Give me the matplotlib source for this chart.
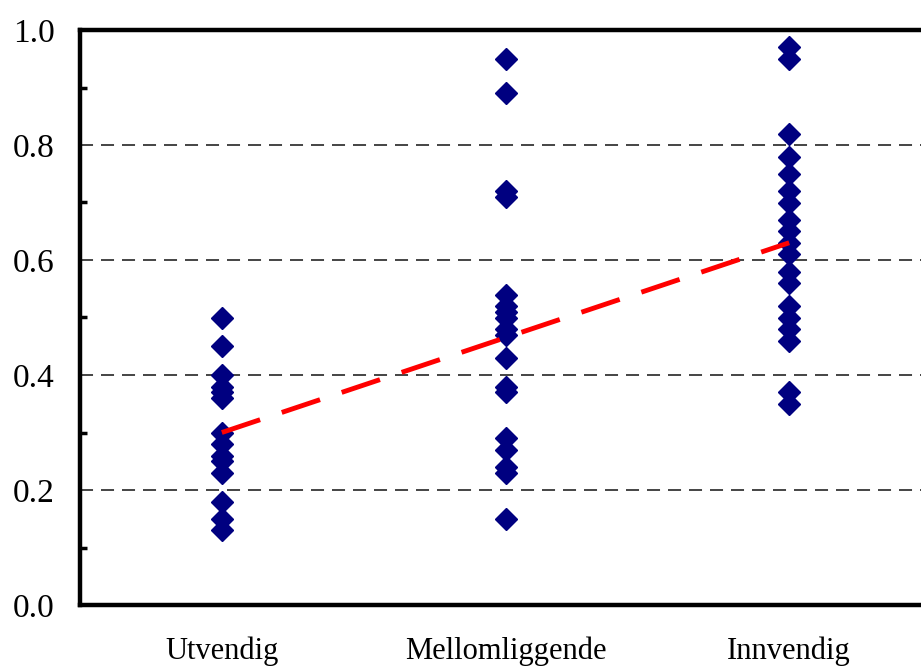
import matplotlib.pyplot as plt
from matplotlib.ticker import MultipleLocator

# category labels
categories = ['Utvendig', 'Mellomliggende', 'Innvendig']

utvendig = [0.50, 0.45, 0.40, 0.38, 0.37, 0.36, 0.30, 0.28, 0.26, 0.25, 0.23,
            0.18, 0.15, 0.13]
mellomliggende = [0.95, 0.89, 0.72, 0.71, 0.54, 0.52, 0.51, 0.50, 0.48, 0.47,
                  0.43, 0.38, 0.37, 0.29, 0.27, 0.24, 0.23, 0.15]
innvendig = [0.97, 0.95, 0.82, 0.78, 0.75, 0.72, 0.70, 0.67, 0.65, 0.63, 0.61,
             0.58, 0.56, 0.52, 0.50, 0.48, 0.46, 0.37, 0.35]

# trend line (group means)
trend = [0.30, 0.465, 0.63]

plt.rcParams['font.family'] = ['Liberation Serif', 'DejaVu Serif']

fig = plt.figure(figsize=(9.21, 6.66), dpi=100)
ax = fig.add_axes([80 / 921, 61 / 666, 851 / 921, 575 / 666])

groups = [utvendig, mellomliggende, innvendig]
for i, vals in enumerate(groups):
    ax.plot([i + 1] * len(vals), vals, linestyle='none', marker='D',
            markersize=11, color='#000080', zorder=3)

ax.plot([1, 2, 3], trend, color='#ff0000', linewidth=3.5,
        dashes=(8.3, 4.7), zorder=4)

for y in [0.2, 0.4, 0.6, 0.8]:
    ax.axhline(y, color='#444444', linewidth=1.4, dashes=(6.7, 4.1), zorder=1)

ax.set_xlim(0.5, 3.5)
ax.set_ylim(0, 1.0)
ax.set_xticks([1, 2, 3])
ax.set_xticklabels(categories)
ax.yaxis.set_major_locator(MultipleLocator(0.2))
ax.yaxis.set_minor_locator(MultipleLocator(0.1))
ax.set_yticklabels([f'{v:.1f}' for v in ax.get_yticks()])

ax.tick_params(axis='x', length=0, pad=23, labelsize=22)
ax.tick_params(axis='y', which='major', length=0, pad=18, labelsize=24)
ax.tick_params(axis='y', which='minor', direction='in', length=5, width=2.5)

for side in ['left', 'bottom', 'top', 'right']:
    ax.spines[side].set_linewidth(3.2)

fig.savefig('out.png', dpi=100)
